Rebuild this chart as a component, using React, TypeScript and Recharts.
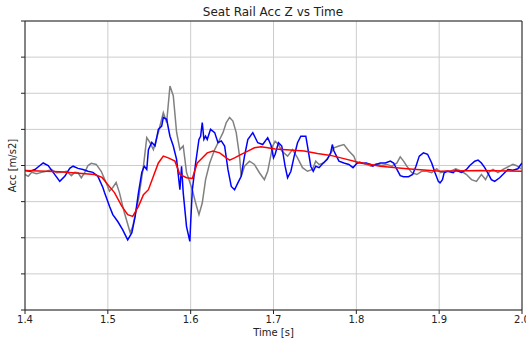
import { LineChart, Line, XAxis, YAxis, CartesianGrid, ReferenceLine } from "recharts";

const xTicks = [1.4, 1.5, 1.6, 1.7, 1.8, 1.9, 2.0];
const yTicks = [-4, -3, -2, -1, 0, 1, 2, 3, 4];

// grey trace
const grayTime = [
  1.4, 1.404, 1.408, 1.414, 1.42, 1.426, 1.432, 1.438, 1.444, 1.45, 1.456, 1.46, 1.464, 1.468, 1.472, 1.476,
  1.48, 1.486, 1.492, 1.498, 1.502, 1.506, 1.51, 1.514, 1.52, 1.527, 1.53, 1.537, 1.543, 1.547, 1.551, 1.555,
  1.561, 1.567, 1.571, 1.575, 1.579, 1.583, 1.587, 1.591, 1.595, 1.602, 1.606, 1.61, 1.614, 1.618, 1.623,
  1.629, 1.635, 1.639, 1.643, 1.647, 1.651, 1.655, 1.659, 1.661, 1.665, 1.671, 1.677, 1.683, 1.689, 1.693,
  1.699, 1.702, 1.706, 1.71, 1.717, 1.723, 1.729, 1.735, 1.741, 1.747, 1.751, 1.755, 1.761, 1.767, 1.773,
  1.779, 1.785, 1.791, 1.797, 1.8, 1.806, 1.812, 1.818, 1.824, 1.83, 1.837, 1.843, 1.849, 1.853, 1.857,
  1.861, 1.867, 1.873, 1.879, 1.885, 1.891, 1.897, 1.902, 1.908, 1.914, 1.92, 1.927, 1.933, 1.939, 1.945,
  1.951, 1.956, 1.961, 1.965, 1.971, 1.977, 1.983, 1.989, 1.993, 2.0,
];
const grayAcc = [
  -0.25, -0.3, -0.19, -0.23, -0.19, -0.16, -0.11, -0.2, -0.19, -0.16, -0.28, -0.19, -0.2, -0.34, -0.2, 0.0,
  0.06, 0.03, -0.16, -0.48, -0.71, -0.61, -0.47, -0.75, -1.31, -1.86, -1.69, -0.94, -0.02, 0.77, 0.63, 0.44,
  0.92, 1.46, 1.19, 2.2, 1.93, 0.92, 0.44, 0.54, -0.19, -0.67, -1.04, -1.36, -1.04, -0.39, 0.07,
  0.44, 0.72, 0.91, 1.19, 1.33, 1.23, 0.91, 0.26, -0.3, -0.02, 0.12, 0.03, -0.2, -0.39, -0.16,
  0.54, 0.67, 0.58, 0.4, 0.26, 0.44, 0.21, -0.06, -0.16, -0.11, 0.12, 0.03, 0.07, 0.26, 0.49,
  0.54, 0.58, 0.4, 0.26, 0.07, 0.07, 0.03, -0.02, 0.05, 0.0, 0.03, -0.02, 0.07, 0.24, 0.12,
  -0.02, -0.2, -0.25, -0.16, -0.16, -0.2, -0.09, -0.2, -0.16, -0.16, -0.09, -0.16, -0.25, -0.39, -0.44,
  -0.25, -0.39, -0.16, -0.11, -0.2, -0.11, -0.04, 0.03, 0.0, -0.11,
];

// blue trace
const blueTime = [
  1.4, 1.406, 1.412, 1.418, 1.422, 1.428, 1.434, 1.442, 1.448, 1.454, 1.458, 1.464, 1.47, 1.476, 1.482, 1.488,
  1.494, 1.496, 1.502, 1.506, 1.512, 1.518, 1.524, 1.529, 1.533, 1.537, 1.541, 1.544, 1.547, 1.549, 1.553,
  1.557, 1.561, 1.565, 1.567, 1.571, 1.575, 1.579, 1.583, 1.587, 1.589, 1.591, 1.595, 1.599, 1.6, 1.602,
  1.606, 1.61, 1.612, 1.614, 1.616, 1.618, 1.62, 1.624, 1.629, 1.633, 1.637, 1.641, 1.645, 1.649, 1.653,
  1.657, 1.661, 1.665, 1.669, 1.675, 1.681, 1.687, 1.693, 1.697, 1.7, 1.702, 1.706, 1.71, 1.714, 1.717,
  1.721, 1.725, 1.729, 1.733, 1.739, 1.741, 1.745, 1.748, 1.751, 1.755, 1.76, 1.765, 1.769, 1.771, 1.773,
  1.779, 1.785, 1.791, 1.796, 1.801, 1.804, 1.808, 1.812, 1.817, 1.82, 1.824, 1.829, 1.835, 1.841, 1.845,
  1.849, 1.853, 1.857, 1.863, 1.868, 1.872, 1.876, 1.881, 1.886, 1.891, 1.895, 1.899, 1.901, 1.904, 1.906,
  1.91, 1.917, 1.92, 1.927, 1.933, 1.937, 1.943, 1.947, 1.951, 1.955, 1.959, 1.963, 1.967, 1.973, 1.979,
  1.983, 1.989, 1.995, 2.0,
];
const blueAcc = [
  -0.14, -0.16, -0.11, 0.0, 0.07, 0.0, -0.19, -0.44, -0.3, -0.08, -0.02, -0.08, -0.11, -0.16, -0.19, -0.3,
  -0.61, -0.75, -1.13, -1.36, -1.55, -1.78, -2.06, -1.86, -1.41, -0.75, -0.19, -0.02, -0.11, 0.44, 0.64,
  0.54, 1.0, 1.09, 1.33, 1.28, 0.81, 0.54, 0.17, -0.67, -0.02, -0.75, -1.69, -2.1, -1.58, -0.67,
  0.07, 0.72, 0.81, 1.19, 0.72, 0.81, 0.72, 1.0, 0.91, 0.63, 0.68, 0.54, -0.11, -0.58, -0.67,
  -0.48, -0.3, 0.26, 0.72, 0.91, 0.63, 0.58, 0.77, 0.56, 0.21, 0.31, 0.63, 0.54, -0.02, -0.34,
  -0.16, 0.26, 0.63, 0.81, 0.81, 0.54, -0.02, -0.16, -0.02, -0.06, 0.07, 0.17, 0.35, 0.58, 0.4,
  0.12, 0.07, 0.03, -0.06, 0.07, 0.09, 0.06, 0.07, 0.03, -0.02, 0.03, 0.07, 0.07, 0.12, 0.07,
  -0.11, -0.28, -0.31, -0.31, -0.25, -0.02, 0.26, 0.35, 0.31, 0.07, -0.2, -0.44, -0.48, -0.39, -0.2,
  -0.16, -0.2, -0.13, -0.19, -0.11, 0.0, 0.12, 0.15, 0.07, -0.06, -0.22, -0.39, -0.44, -0.34, -0.2,
  -0.11, -0.13, -0.09, 0.07,
];

// red (filtered) trace
const redTime = [
  1.4, 1.442, 1.484, 1.493, 1.5, 1.508, 1.517, 1.524, 1.53, 1.537, 1.543, 1.549, 1.555, 1.561, 1.567, 1.573,
  1.581, 1.587, 1.595, 1.602, 1.608, 1.614, 1.62, 1.627, 1.635, 1.643, 1.647, 1.653, 1.661, 1.669, 1.677,
  1.685, 1.693, 1.702, 1.72, 1.737, 1.753, 1.769, 1.785, 1.802, 1.829, 1.861, 1.902, 1.948, 2.0,
];
const redAcc = [
  -0.14, -0.17, -0.25, -0.33, -0.53, -0.75, -1.13, -1.36, -1.41, -1.13, -0.81, -0.67, -0.3, 0.07, 0.26, 0.21,
  0.12, -0.25, -0.34, -0.36, 0.07, 0.21, 0.35, 0.4, 0.35, 0.21, 0.15, 0.21, 0.31, 0.4, 0.49,
  0.52, 0.49, 0.46, 0.43, 0.4, 0.33, 0.28, 0.19, 0.09, -0.02, -0.09, -0.16, -0.14, -0.16,
];

const toPoints = (t: number[], v: number[]) => t.map((time, i) => ({ time, acc: v[i] }));

const grayData = toPoints(grayTime, grayAcc);
const blueData = toPoints(blueTime, blueAcc);
const redData = toPoints(redTime, redAcc);

const ink = "#222";

export default function App() {
  return (
    <div style={{ position: "absolute", left: 0, top: 0, fontFamily: "DejaVu Sans" }}>
      <LineChart width={526} height={338} margin={{ top: 21, right: 4, bottom: 0, left: 0 }}>
        <CartesianGrid stroke="#cccccc" strokeWidth={1} />
        <XAxis
          type="number"
          dataKey="time"
          domain={[1.4, 2.0]}
          ticks={xTicks}
          interval={0}
          allowDataOverflow
          tickFormatter={(v: number) => v.toFixed(1)}
          height={28}
          stroke={ink}
          tickSize={4}
          tick={{ fontSize: 10, fill: ink }}
          label={{ value: "Time [s]", position: "insideBottom", offset: 2, fontSize: 10, fill: ink }}
        />
        <YAxis
          type="number"
          domain={[-4, 4]}
          ticks={yTicks}
          interval={0}
          width={25}
          stroke={ink}
          tickSize={4}
          tickFormatter={() => ""}
          label={{
            value: "Acc [m/s2]",
            angle: -90,
            position: "insideLeft",
            offset: 12,
            fontSize: 10,
            fill: ink,
            style: { textAnchor: "middle" },
          }}
        />
        <ReferenceLine y={4} stroke={ink} />
        <ReferenceLine x={2.0} stroke={ink} />
        <Line data={grayData} dataKey="acc" stroke="#808080" strokeWidth={1.5} dot={false} isAnimationActive={false} />
        <Line data={blueData} dataKey="acc" stroke="#0000ff" strokeWidth={1.5} dot={false} isAnimationActive={false} />
        <Line data={redData} dataKey="acc" stroke="#ff0000" strokeWidth={1.5} dot={false} isAnimationActive={false} />
        <text x={273} y={16} textAnchor="middle" fontSize={12} fill={ink}>
          Seat Rail Acc Z vs Time
        </text>
      </LineChart>
    </div>
  );
}
